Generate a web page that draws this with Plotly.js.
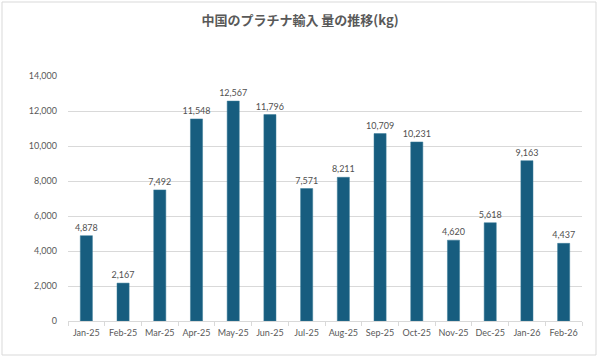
<!DOCTYPE html>
<html>
<head>
<meta charset="utf-8">
<script src="https://cdn.plot.ly/plotly-3.0.1.min.js"></script>
<style>html,body{margin:0;padding:0;background:#fff;}#chart{width:600px;height:358px;}</style>
</head>
<body>
<div id="chart"></div>
<script>
const categories = ["Jan-25","Feb-25","Mar-25","Apr-25","May-25","Jun-25","Jul-25","Aug-25","Sep-25","Oct-25","Nov-25","Dec-25","Jan-26","Feb-26"];
const imports = [4878, 2167, 7492, 11548, 12567, 11796, 7571, 8211, 10709, 10231, 4620, 5618, 9163, 4437];
const yTicks = [0, 2000, 4000, 6000, 8000, 10000, 12000, 14000];
const titleText = "中国のプラチナ輸入 量の推移(kg)";

const L = 68, R = 582, T = 76, B = 321, W = 600, H = 358;
const px = v => (v - L) / (R - L);
const py = v => (B - v) / (B - T);

Plotly.newPlot("chart", [{
  type: "bar",
  x: categories,
  y: imports,
  marker: {color: "#175d7f", line: {color: "#3a7c99", width: 0.5}},
  text: imports.map(v => v.toLocaleString("en-US")),
  textposition: "outside",
  constraintext: "none",
  textfont: {family: "Lato, 'Open Sans', sans-serif", size: 9, color: "#505050"},
  cliponaxis: false,
  hoverinfo: "x+y"
}], {
  width: W, height: H,
  margin: {l: L, r: W - R, t: T, b: H - B},
  paper_bgcolor: "#ffffff",
  plot_bgcolor: "#ffffff",
  bargap: 0.67,
  showlegend: false,
  title: {
    text: "<b>" + titleText + "</b>",
    x: 0.5, xanchor: "center",
    y: 1 - 20 / H, yanchor: "middle",
    font: {family: "'Noto Sans CJK JP', sans-serif", size: 13, color: "#595959"}
  },
  xaxis: {
    type: "category",
    showgrid: false,
    showline: true, linecolor: "#d9d9d9", linewidth: 1,
    ticks: "outside", tickcolor: "#d9d9d9", ticklen: 4,
    tickson: "boundaries",
    tickangle: 0,
    ticklabelstandoff: 3,
    automargin: false,
    tickfont: {family: "Lato, 'Open Sans', sans-serif", size: 9, color: "#595959"},
    zeroline: false
  },
  yaxis: {
    range: [0, 14000],
    tickvals: yTicks,
    ticktext: yTicks.map(v => v.toLocaleString("en-US")),
    showgrid: true, gridcolor: "#d9d9d9", gridwidth: 1,
    showline: false, zeroline: false,
    ticks: "", ticklabelstandoff: 10,
    automargin: false,
    tickfont: {family: "Lato, 'Open Sans', sans-serif", size: 9, color: "#595959"}
  },
  shapes: [{
    type: "rect", xref: "paper", yref: "paper",
    x0: px(2), x1: px(596), y0: py(355), y1: py(2),
    line: {color: "#d9d9d9", width: 1}, fillcolor: "rgba(0,0,0,0)", layer: "below"
  }]
}, {displayModeBar: false, staticPlot: true});
</script>
</body>
</html>
